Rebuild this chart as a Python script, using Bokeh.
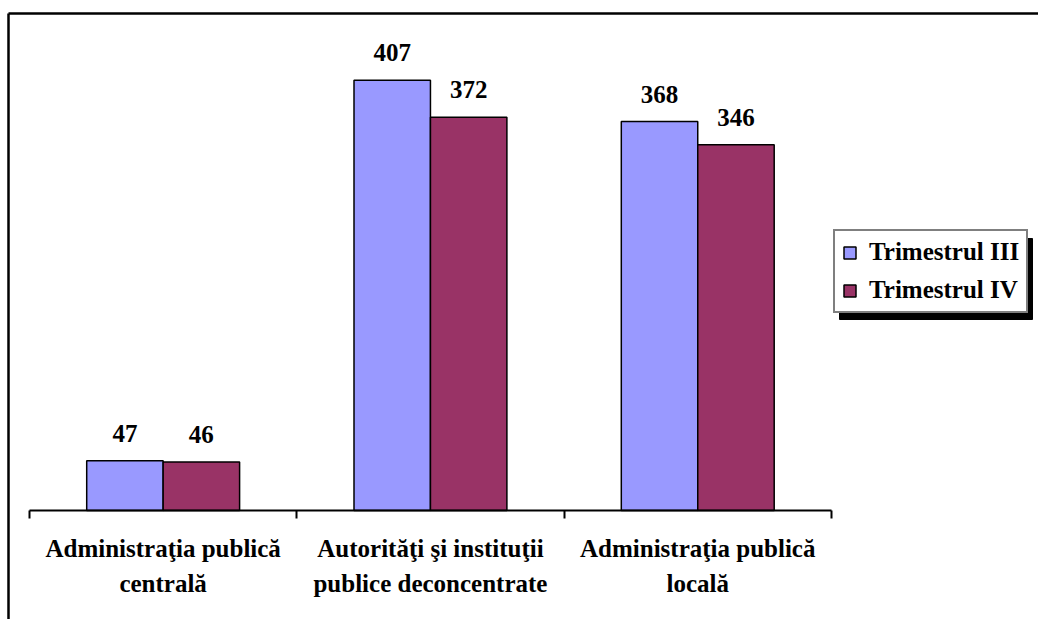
from bokeh.plotting import figure
from bokeh.models import (Range1d, LinearAxis, FixedTicker, ColumnDataSource,
                          LabelSet, Legend, LegendItem)
from bokeh.embed import file_html
from bokeh.resources import INLINE

# ---- data ----
categories = ["Administraţia publică\ncentrală",
              "Autorităţi şi instituţii\npublice deconcentrate",
              "Administraţia publică\nlocală"]
series_names = ["Trimestrul III", "Trimestrul IV"]
trim3 = [47, 407, 368]
trim4 = [46, 372, 346]
colors = ["#9999FF", "#993366"]

# ---- layout constants (pixels) ----
W, H = 1038, 619
X0_PX = 29.0      # pixel of first category boundary
CAT_PX = 267.3    # pixels per category
Y0_PX = 510.0     # pixel of the baseline
UNIT_PX = 1.057   # pixels per value unit
BAR_W = 0.286
FONT = "'Liberation Serif', 'Times New Roman', serif"
FS = "25px"


def dx(px):
    return (px - X0_PX) / CAT_PX


def dy(py):
    return (Y0_PX - py) / UNIT_PX


p = figure(width=W, height=H,
           x_range=Range1d(dx(0), dx(W)), y_range=Range1d(dy(H), dy(0)),
           output_backend="svg", toolbar_location=None,
           x_axis_type=None, y_axis_type=None, min_border=0)
p.min_border_left = p.min_border_right = 0
p.min_border_top = p.min_border_bottom = 0
p.outline_line_color = None
p.grid.visible = False
p.background_fill_color = "white"
p.border_fill_color = "white"

# outer border (top and left edges visible)
p.segment(x0=[dx(8), dx(8)], y0=[dy(13), dy(13)],
          x1=[dx(W + 10), dx(8)], y1=[dy(13), dy(H + 10)],
          line_color="black", line_width=2.5)

idx = list(range(len(categories)))
src = ColumnDataSource(dict(
    x3=[i + 0.5 - BAR_W / 2 for i in idx],
    x4=[i + 0.5 + BAR_W / 2 for i in idx],
    t3=trim3, t4=trim4,
    l3=[str(v) for v in trim3], l4=[str(v) for v in trim4],
))

r3 = p.vbar(x="x3", top="t3", bottom=0, width=BAR_W, source=src,
            fill_color=colors[0], line_color="black", line_width=1.5)
r4 = p.vbar(x="x4", top="t4", bottom=0, width=BAR_W, source=src,
            fill_color=colors[1], line_color="black", line_width=1.5)

for xcol, ycol, lcol in [("x3", "t3", "l3"), ("x4", "t4", "l4")]:
    p.add_layout(LabelSet(x=xcol, y=ycol, text=lcol, source=src,
                          text_align="center", text_baseline="alphabetic",
                          y_offset=19, text_font=FONT, text_font_style="bold",
                          text_font_size=FS, text_color="black"))

# category axis: boundary ticks
tick_axis = LinearAxis(fixed_location=0, ticker=FixedTicker(ticks=[0, 1, 2, 3]),
                       bounds=(0, 3), major_tick_in=0, major_tick_out=8,
                       axis_line_width=2, axis_line_color="black",
                       major_tick_line_width=2, major_tick_line_color="black",
                       minor_tick_line_color=None,
                       major_label_overrides={0: "", 1: "", 2: "", 3: ""},
                       major_label_text_font_size="1px")
p.add_layout(tick_axis, "below")

# category axis: labels centred in categories
label_axis = LinearAxis(fixed_location=0,
                        ticker=FixedTicker(ticks=[i + 0.5 for i in idx]),
                        bounds=(0, 3), major_tick_in=0, major_tick_out=0,
                        axis_line_color=None, major_tick_line_color=None,
                        minor_tick_line_color=None,
                        major_label_overrides={i + 0.5: c for i, c in zip(idx, categories)},
                        major_label_standoff=24,
                        major_label_text_font=FONT,
                        major_label_text_font_style="bold",
                        major_label_text_font_size=FS,
                        major_label_text_color="black",
                        major_label_text_line_height=1.3)
p.add_layout(label_axis, "below")

# legend shadow
LEG_L, LEG_T, LEG_W, LEG_H, SH = 833, 232, 193, 81, 6
p.quad(left=[dx(LEG_L + SH)], right=[dx(LEG_L + LEG_W + SH)],
       top=[dy(LEG_T + SH)], bottom=[dy(LEG_T + LEG_H + SH)],
       fill_color="black", line_color="black")

legend = Legend(items=[LegendItem(label=series_names[0], renderers=[r3]),
                       LegendItem(label=series_names[1], renderers=[r4])],
                location=(LEG_L, H - LEG_T - LEG_H), margin=0,
                padding=7, spacing=10, glyph_width=15, glyph_height=15,
                label_standoff=12, label_height=24,
                label_text_font=FONT, label_text_font_style="bold",
                label_text_font_size=FS, label_text_color="black",
                border_line_color="black", border_line_width=2,
                background_fill_color="white", background_fill_alpha=1.0)
p.add_layout(legend)

open("out.html", "w").write(file_html(p, INLINE))
